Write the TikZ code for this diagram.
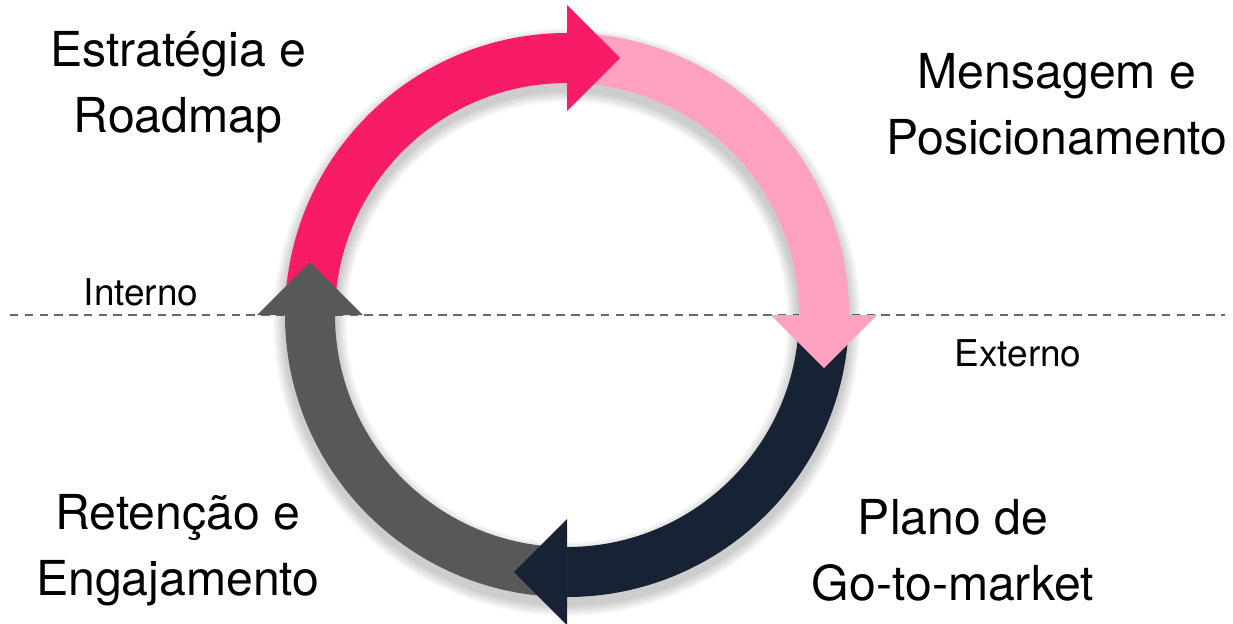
\documentclass[tikz,border=0pt]{standalone}
\usepackage{fontspec}
\setmainfont{TeX Gyre Heros}
\definecolor{redx}{RGB}{248,27,104}
\definecolor{pinkx}{RGB}{255,161,192}
\definecolor{navyx}{RGB}{23,34,53}
\definecolor{grayx}{RGB}{88,88,88}
\definecolor{linex}{RGB}{105,105,105}

\begin{document}
\begin{tikzpicture}[x=0.01cm, y=0.01cm,
  big/.style = {align=center, font=\fontsize{13.7}{18.8}\selectfont},
  small/.style = {font=\fontsize{10.5}{12}\selectfont},
  dashline/.style = {draw=linex, line width=0.35pt, dash pattern=on 2.4pt off 1.8pt}]
\useasboundingbox (0,0) rectangle (1233,623);
\coordinate (c) at (567,308);
% dividing line
\coordinate (dl) at (10,308);
\coordinate (dr) at (1225,308);
\draw[dashline] (dl) -- (dr);
% soft shadow round the ring
\foreach \k in {1,...,6} {
  \draw[black, opacity=0.035, line width=14.2pt+\k*1.1pt] ([yshift=-2]c) circle[radius=257];
}
% ring segments, each ends at angle \b
\foreach \b/\col in {90/redx, 0/pinkx, 270/navyx, 180/grayx} {
  \begin{scope}[shift={(c)}, rotate=\b]
    \fill[\col] (90:282) arc[start angle=90, end angle=0, radius=282]
      -- (0:232) arc[start angle=0, end angle=90, radius=232] -- cycle;
  \end{scope}
}
% arrow heads
\foreach \b/\col in {90/redx, 0/pinkx, 270/navyx, 180/grayx} {
  \begin{scope}[shift={(c)}, rotate=\b]
    \fill[\col] (204,0) -- (310,0) -- (257,-53) -- cycle;
  \end{scope}
}
% labels
\node[big] (strat) at (178,536) {Estratégia e\\Roadmap};
\node[big] (msg) at (1057,519) {Mensagem e\\Posicionamento};
\node[big] (gtm) at (953,73) {Plano de\\Go-to-market};
\node[big] (ret) at (178,73) {Retenção e\\Engajamento};
\node[small] (int) at (141,331) {Interno};
\node[small] (ext) at (1018,270) {Externo};
\end{tikzpicture}
\end{document}
